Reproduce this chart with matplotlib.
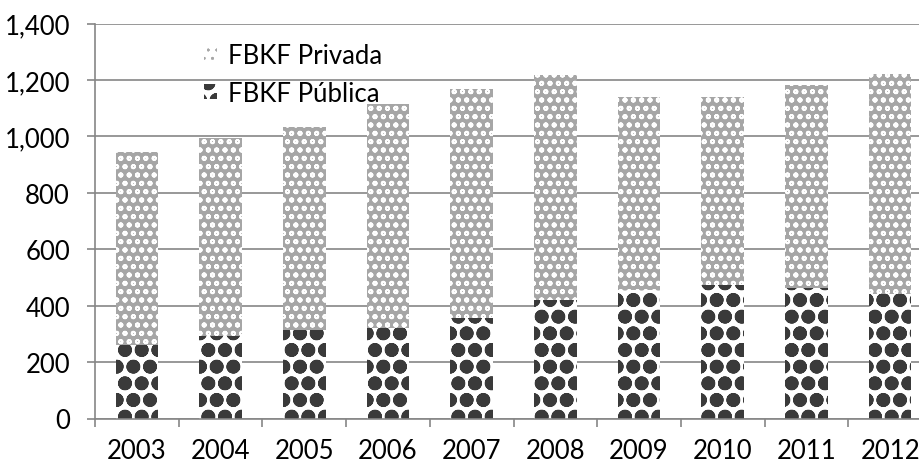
import numpy as np
import matplotlib as mpl
mpl.use("Agg")
from matplotlib import pyplot as plt
import matplotlib.ticker as ticker

# ---------------------------------------------------------------
# Dados
# ---------------------------------------------------------------
anos = ['2003', '2004', '2005', '2006', '2007', '2008', '2009', '2010', '2011', '2012']
fbkf_publica = [260, 291, 315, 320, 356, 421, 456, 472, 464, 442]
fbkf_privada = [683, 702, 717, 794, 812, 797, 685, 668, 718, 779]
y_ticks = [0, 200, 400, 600, 800, 1000, 1200, 1400]

plt.rcParams['font.family'] = ['Lato', 'DejaVu Sans']
plt.rcParams['hatch.linewidth'] = 5.2

cinza = '#868686'
fs = 18.5

fig = plt.figure(figsize=(9.2, 4.64), dpi=100)
# eixo passa da borda direita, como no original (ultimo ano cortado)
ax = fig.add_axes([95/920, 44.5/464, 837/920, 395/464])

x = np.arange(len(anos))
larg = 0.51

b1 = ax.bar(x, fbkf_publica, larg, color='white', edgecolor='#3a3a3a',
            linewidth=0, hatch='o', label='FBKF Pública', zorder=2)
b2 = ax.bar(x, fbkf_privada, larg, bottom=fbkf_publica, color='#a6a6a6',
            edgecolor='white', linewidth=0, hatch='oo', label='FBKF Privada', zorder=2)

for p in b1.patches:
    if hasattr(p, 'set_hatch_linewidth'):
        p.set_hatch_linewidth(5.2)
for p in b2.patches:
    if hasattr(p, 'set_hatch_linewidth'):
        p.set_hatch_linewidth(1.3)

ax.set_xlim(-0.5, len(anos) - 0.5)
ax.set_ylim(0, 1400)
ax.set_yticks(y_ticks)
ax.yaxis.set_major_formatter(ticker.FuncFormatter(lambda v, p: '{:,.0f}'.format(v)))

# ticks do eixo x nas fronteiras das categorias, rotulos no centro
ax.set_xticks(np.arange(len(anos) + 1) - 0.5)
ax.set_xticklabels([])
ax.set_xticks(x, minor=True)
ax.set_xticklabels(anos, minor=True)
ax.tick_params(axis='x', which='major', length=6, width=1.2, color=cinza, direction='out')
ax.tick_params(axis='x', which='minor', length=0, pad=14, labelsize=fs)
ax.tick_params(axis='y', length=6, width=1.2, color=cinza, direction='out', pad=12, labelsize=fs)

ax.grid(axis='y', color=cinza, linewidth=1.2, zorder=0)
ax.set_axisbelow(True)

for s in ['top', 'right']:
    ax.spines[s].set_visible(False)
for s in ['left', 'bottom']:
    ax.spines[s].set_color(cinza)
    ax.spines[s].set_linewidth(1.2)

handles, labels = ax.get_legend_handles_labels()
fig.legend(handles[::-1], labels[::-1], loc='upper left',
           bbox_to_anchor=(204/920, 1 - 44/464), frameon=False, fontsize=fs,
           handlelength=0.5, handleheight=0.5, handletextpad=0.45,
           labelspacing=0.5, borderpad=0, borderaxespad=0)

plt.savefig('out.png', dpi=100)
